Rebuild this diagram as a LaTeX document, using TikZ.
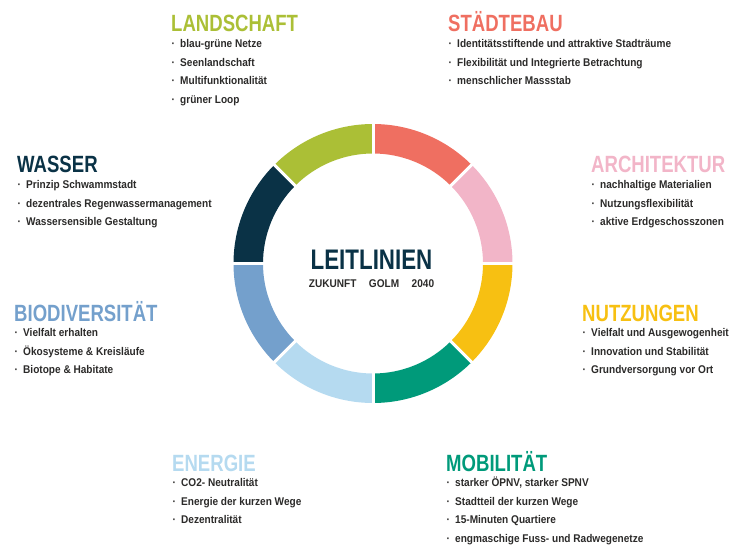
\documentclass[tikz,border=0pt]{standalone}
\usepackage{fontspec}
\setmainfont{Liberation Sans}[FakeStretch=0.9]
\newfontfamily\headfont{Liberation Sans}[FakeStretch=0.79]

\definecolor{cLand}{HTML}{ABBF36}
\definecolor{cStadt}{HTML}{EF6F61}
\definecolor{cArch}{HTML}{F2B5C8}
\definecolor{cNutz}{HTML}{F7C012}
\definecolor{cMobil}{HTML}{009A7A}
\definecolor{cEnerg}{HTML}{B5DAF0}
\definecolor{cBio}{HTML}{74A0CC}
\definecolor{cWasser}{HTML}{0A3246}
\definecolor{cText}{HTML}{2B2A29}

\tikzset{
  topictitle/.style={inner sep=0pt, anchor=base west, font=\headfont\bfseries\fontsize{23.5bp}{24bp}\selectfont},
  topicitem/.style={inner sep=0pt, anchor=base west, text=cText, font=\bfseries\fontsize{11.2bp}{12bp}\selectfont},
}

% one topic block: name, x, title baseline y, colour, title, items
\newcommand\topicblock[6]{%
  \node[topictitle, text=#4] (#1) at (#2,#3) {#5};
  \foreach \t [count=\i] in {#6}
    \node[topicitem] (#1-\i) at (#2, #3+15.5+18.6*\i-18.6) {\makebox[9bp][l]{\hspace{0.5bp}\textbf{·}}\t};
}

\begin{document}
\begin{tikzpicture}[x=1bp,y=-1bp]
\useasboundingbox (0,0) rectangle (753,547);

% ring of eight sectors
\begin{scope}[shift={(373,263.5)}, yscale=-1]
  \foreach \a/\col in {45/cStadt, 0/cArch, -45/cNutz, -90/cMobil, -135/cEnerg, -180/cBio, 135/cWasser, 90/cLand}
    \fill[\col] (\a:139.5) arc[start angle=\a, end angle=\a+45, radius=139.5]
      -- (\a+45:110) arc[start angle=\a+45, end angle=\a, radius=110] -- cycle;
  \foreach \a in {0,45,...,315}
    \draw[white, line width=3bp] (\a:105) -- (\a:145);
\end{scope}

% centre title
\node[inner sep=0pt, anchor=base, text=cWasser, font=\headfont\bfseries\fontsize{28.3bp}{30bp}\selectfont] (leit) at (371.5,270) {LEITLINIEN};
\node[inner sep=0pt, anchor=base, text=cText, font=\bfseries\fontsize{11.2bp}{12bp}\selectfont] (sub) at (371.5,287.3) {ZUKUNFT\hspace{12.5bp}GOLM\hspace{12.5bp}2040};

\topicblock{land}{171}{32}{cLand}{LANDSCHAFT}{blau-grüne Netze, Seenlandschaft, Multifunktionalität, grüner Loop}
\topicblock{stadt}{448}{32}{cStadt}{STÄDTEBAU}{Identitätsstiftende und attraktive Stadträume, Flexibilität und Integrierte Betrachtung, menschlicher Massstab}
\topicblock{wasser}{17}{173}{cWasser}{WASSER}{Prinzip Schwammstadt, dezentrales Regenwassermanagement, Wassersensible Gestaltung}
\topicblock{arch}{591}{173}{cArch}{ARCHITEKTUR}{nachhaltige Materialien, Nutzungsflexibilität, aktive Erdgeschosszonen}
\topicblock{bio}{14}{321}{cBio}{BIODIVERSITÄT}{Vielfalt erhalten, Ökosysteme \& Kreisläufe, Biotope \& Habitate}
\topicblock{nutz}{582}{321}{cNutz}{NUTZUNGEN}{Vielfalt und Ausgewogenheit, Innovation und Stabilität, Grundversorgung vor Ort}
\topicblock{energ}{172}{471}{cEnerg}{ENERGIE}{CO2- Neutralität, Energie der kurzen Wege, Dezentralität}
\topicblock{mobil}{446}{471}{cMobil}{MOBILITÄT}{{starker ÖPNV, starker SPNV}, Stadtteil der kurzen Wege, 15-Minuten Quartiere, engmaschige Fuss- und Radwegenetze}
\end{tikzpicture}
\end{document}
